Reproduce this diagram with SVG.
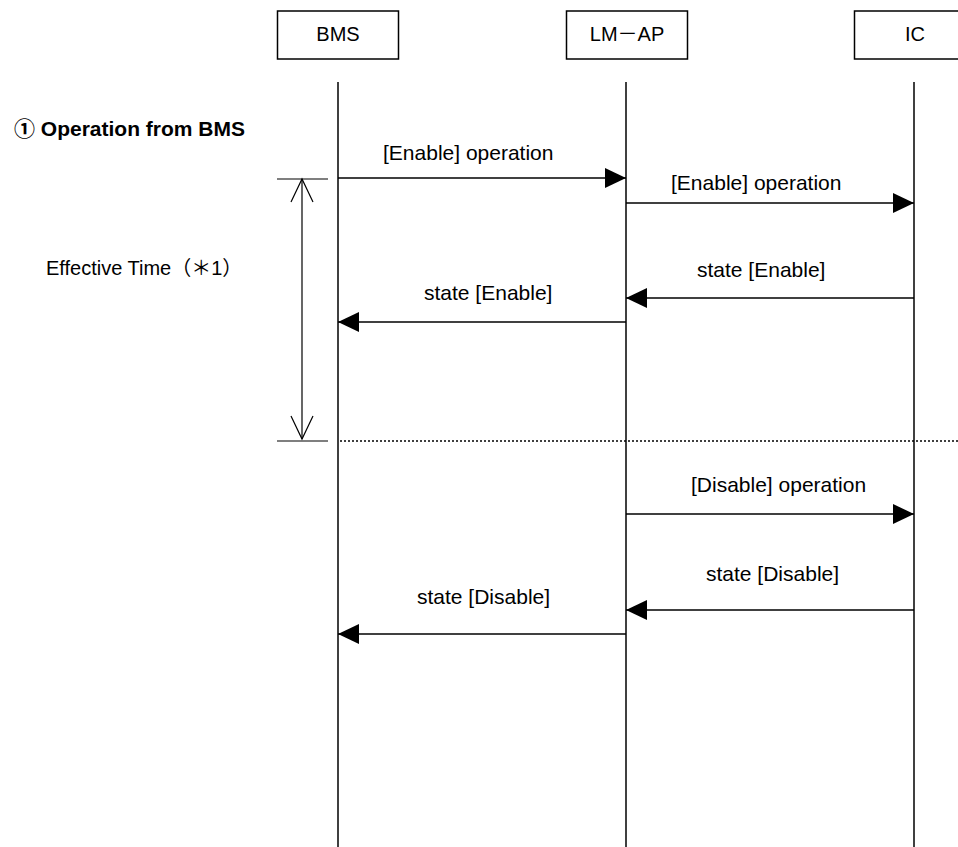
<svg xmlns="http://www.w3.org/2000/svg" width="958" height="847" viewBox="0 0 958 847">
<style>
  .box { fill: #fff; stroke: #000; stroke-width: 1.5; }
  .lbl { font-family: "Liberation Sans", Arial, "Noto Sans CJK JP", sans-serif; font-size: 20px; fill: #000; }
  .msg { font-family: "Liberation Sans", Arial, "Noto Sans CJK JP", sans-serif; font-size: 21px; fill: #000; }
  .life { stroke: #000; stroke-width: 1.5; fill: none; }
  .arr { stroke: #000; stroke-width: 1.5; fill: none; marker-end: url(#ah); }
  .thin { stroke: #000; stroke-width: 1.2; fill: none; }
</style>
<defs>
  <marker id="ah" markerUnits="userSpaceOnUse" markerWidth="22" markerHeight="20" refX="21" refY="10" orient="auto">
    <path d="M0,0 L21,10 L0,20 z" fill="#000"/>
  </marker>
</defs>
<rect width="958" height="847" fill="#fff"/>

<g id="node-bms">
  <rect class="box" x="277.5" y="11" width="121" height="48"/>
  <text class="lbl" x="338" y="41" text-anchor="middle">BMS</text>
  <line class="life" x1="338" y1="82" x2="338" y2="847"/>
</g>
<g id="node-lmap">
  <rect class="box" x="566.5" y="11" width="121" height="48"/>
  <text class="lbl" x="627" y="41" text-anchor="middle">LM－AP</text>
  <line class="life" x1="626" y1="82" x2="626" y2="847"/>
</g>
<g id="node-ic">
  <rect class="box" x="854.5" y="11" width="121" height="48"/>
  <text class="lbl" x="915" y="41" text-anchor="middle">IC</text>
  <line class="life" x1="914" y1="82" x2="914" y2="847"/>
</g>

<g id="section-title">
  <text class="msg" x="14" y="136" font-weight="bold">① Operation from BMS</text>
</g>

<g id="effective-time">
  <text class="lbl" x="46" y="275">Effective Time（＊1）</text>
  <line class="thin" x1="277" y1="179" x2="328" y2="179"/>
  <line class="thin" x1="277" y1="441" x2="328" y2="441"/>
  <line class="thin" x1="302" y1="179" x2="302" y2="439"/>
  <polyline class="thin" points="291,202 302,179 313,202"/>
  <polyline class="thin" points="291,416 302,439 313,416"/>
</g>

<g id="connectors">
  <line class="arr" x1="338" y1="178" x2="626" y2="178"/>
  <text class="msg" x="383" y="160">[Enable] operation</text>

  <line class="arr" x1="626" y1="203" x2="914" y2="203"/>
  <text class="msg" x="671" y="190">[Enable] operation</text>

  <line class="arr" x1="914" y1="298" x2="626" y2="298"/>
  <text class="msg" x="697" y="277">state [Enable]</text>

  <line class="arr" x1="626" y1="322" x2="338" y2="322"/>
  <text class="msg" x="424" y="300">state [Enable]</text>

  <line x1="340" y1="441" x2="958" y2="441" stroke="#000" stroke-width="1.5" stroke-dasharray="2 2"/>

  <line class="arr" x1="626" y1="514" x2="914" y2="514"/>
  <text class="msg" x="691" y="492">[Disable] operation</text>

  <line class="arr" x1="914" y1="610" x2="626" y2="610"/>
  <text class="msg" x="706" y="581">state [Disable]</text>

  <line class="arr" x1="626" y1="634" x2="338" y2="634"/>
  <text class="msg" x="417" y="604">state [Disable]</text>
</g>
</svg>
